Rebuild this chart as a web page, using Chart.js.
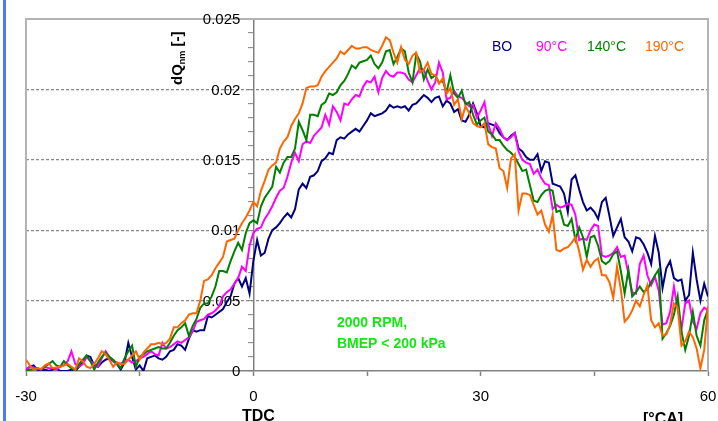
<!DOCTYPE html>
<html>
<head>
<meta charset="utf-8">
<title>dQnm vs crank angle</title>
<script src="https://cdn.jsdelivr.net/npm/chart.js@4.4.1/dist/chart.umd.min.js"></script>
<style>
  html, body { margin: 0; padding: 0; background: #fff; }
  canvas { display: block; }
</style>
</head>
<body>
<canvas id="hrrChart" width="718" height="421"></canvas>
<script>
// Normalised heat release rate dQnm against crank angle (2000 RPM, BMEP < 200 kPa).
// Series values are in units of 1e-3, sampled every 0.5 °CA from -30 to 60.
const angleStart = -30;
const angleStep = 0.5;

const seriesNames = ['BO', '90°C', '140°C', '190°C'];
const seriesColors = ['#000080', '#ff00ff', '#008000', '#ff6600'];

const boValues = [
  0.1, 0.3, 0.4, 0.1, 0.0, 0.1, 0.0, 0.1, 0.2, 0.0,
  0.0, 0.0, 0.1, 0.0, 0.3, 0.6, 1.1, 1.0, 0.4, 0.3,
  0.6, 0.8, 0.9, 0.7, 0.5, 0.1, 0.6, 2.0, 1.0, 0.1,
  0.4, 0.0, 0.9, 1.0, 1.1, 0.9, 0.8, 1.0, 1.4, 1.5,
  1.9, 1.8, 1.5, 2.3, 2.9, 2.8, 2.9, 2.9, 3.9, 3.8,
  4.0, 4.2, 4.4, 4.9, 5.3, 6.2, 6.6, 6.0, 6.6, 5.5,
  7.8, 9.3, 8.2, 8.4, 9.4, 10.0, 10.2, 10.5, 10.9, 11.2,
  10.9, 11.5, 12.9, 13.3, 13.0, 13.8, 13.9, 14.2, 14.9, 15.1,
  15.5, 15.4, 16.4, 16.6, 16.5, 16.8, 17.0, 17.2, 17.0, 17.4,
  17.8, 18.3, 18.1, 18.2, 18.3, 18.5, 18.9, 18.7, 18.8, 18.7,
  18.8, 18.5, 18.9, 19.0, 19.3, 19.6, 19.4, 19.1, 19.4, 19.5,
  18.8, 19.2, 19.0, 18.4, 18.6, 17.8, 17.7, 18.2, 19.0, 18.3,
  17.4, 17.3, 17.6, 17.5, 17.4, 16.9, 16.6, 16.4, 16.7, 16.9,
  15.8, 15.6, 15.2, 15.0, 15.0, 15.4, 14.2, 14.9, 14.8, 13.3,
  13.2, 13.1, 12.6, 11.3, 13.6, 13.9, 12.9, 12.0, 11.4, 11.6,
  11.3, 10.8, 12.0, 12.3, 11.0, 9.6, 10.2, 10.8, 9.5, 9.2,
  8.5, 9.5, 9.4, 9.0, 8.4, 7.6, 9.6, 8.4, 5.9, 7.3,
  7.8, 6.6, 6.4, 6.5, 5.0, 5.4, 8.4, 6.5, 5.0, 6.2,
  5.3
];

const t90Values = [
  0.1, 0.3, 0.25, 0.15, 0.1, 0.3, 0.2, 0.2, 0.1, 0.3,
  0.4, 0.7, 1.4, 0.5, 0.3, 0.5, 1.0, 0.7, 0.5, 0.3,
  0.9, 1.4, 1.0, 0.7, 0.6, 0.5, 0.7, 0.8, 0.6, 0.7,
  0.9, 1.0, 1.2, 1.4, 1.2, 1.1, 2.0, 1.6, 1.7, 1.9,
  2.1, 2.0, 2.2, 2.4, 2.8, 3.5, 3.6, 3.7, 4.0, 4.1,
  4.3, 4.6, 5.3, 5.6, 5.8, 6.2, 6.6, 7.4, 7.1, 8.9,
  9.8, 10.1, 10.2, 10.8, 11.2, 11.7, 12.3, 12.8, 13.0, 13.8,
  14.8, 15.5, 14.9, 16.1, 16.3, 16.2, 16.7, 17.0, 17.3, 18.2,
  17.5, 18.8, 18.4, 17.8, 19.0, 18.9, 19.3, 19.6, 19.5, 20.2,
  20.6, 20.5, 20.9, 19.8, 20.8, 21.3, 21.0, 20.9, 21.2, 21.2,
  21.1, 20.7, 20.5, 21.0, 21.5, 21.4, 20.6, 20.0, 20.5, 21.9,
  21.2, 19.3, 19.4, 19.9, 19.5, 19.4, 19.1, 18.8, 18.9, 18.0,
  18.5, 19.1, 17.5, 16.7, 17.6, 17.2, 16.6, 16.4, 16.6, 16.9,
  15.6, 15.0, 14.8, 14.7, 14.0, 14.3, 13.7, 13.3, 13.2, 11.5,
  11.8, 11.6, 11.7, 11.9, 11.8, 11.1, 9.3, 9.4, 9.3, 10.0,
  10.4, 10.3, 8.2, 8.1, 8.2, 8.4, 8.8, 8.1, 8.2, 6.9,
  5.6, 5.5, 7.6, 8.2, 6.8, 6.1, 6.7, 5.7, 3.3, 3.4,
  4.2, 6.0, 4.4, 3.0, 4.8, 5.0, 3.5, 3.0, 4.1, 4.5,
  4.3
];

const t140Values = [
  0.0, 0.1, 0.1, 0.2, 0.1, 0.3, 0.5, 0.7, 0.4, 0.3,
  0.7, 0.4, 0.2, 0.0, 0.5, 0.8, 1.1, 0.7, 0.1, 0.6,
  1.0, 1.3, 1.0, 0.8, 0.5, 0.2, 0.9, 1.4, 1.8, 0.3,
  1.0, 1.2, 1.4, 1.5, 1.6, 1.7, 1.6, 1.6, 2.0, 2.5,
  2.9, 3.1, 3.4, 2.5, 3.2, 3.7, 4.5, 4.8, 4.8, 5.3,
  6.0, 7.1, 7.1, 7.0, 7.8, 8.5, 9.1, 8.6, 9.8, 10.5,
  10.7, 10.5, 11.7, 12.3, 12.7, 13.1, 14.5, 14.1, 14.8, 15.2,
  15.2, 15.8, 17.7, 17.1, 16.4, 18.2, 18.2, 18.1, 18.9, 19.1,
  19.7, 19.6, 19.8, 20.3, 20.6, 21.1, 21.7, 21.5, 21.9, 22.0,
  22.1, 22.4, 21.8, 21.5, 21.9, 22.7, 22.8, 21.8, 22.3, 22.9,
  22.7, 21.2, 20.5, 22.5, 22.0, 20.7, 21.4, 20.8, 21.0, 20.5,
  20.6, 19.8, 21.0, 19.7, 19.4, 19.9, 18.9, 19.1, 18.2, 17.5,
  17.8, 18.0, 17.0, 16.8, 16.4, 16.4, 16.0, 15.7, 15.5, 15.2,
  14.7, 14.2, 14.3, 13.2, 12.1, 12.0, 12.5, 12.8, 12.9, 12.8,
  11.3, 11.4, 10.4, 10.3, 10.8, 9.3, 10.2, 9.5, 8.1, 9.5,
  9.6, 8.9, 7.8, 7.6, 7.8, 8.3, 8.5, 7.1, 5.5, 7.2,
  5.3, 5.6, 6.0, 5.6, 5.8, 6.3, 6.8, 7.2, 2.3, 2.7,
  3.2, 4.0, 5.3, 2.8, 1.5, 2.5, 4.2, 2.5, 1.8, 3.6,
  4.4
];

const t190Values = [
  0.8, 0.4, 0.1, 0.2, 0.15, 0.4, 0.55, 0.2, 0.25, 0.3,
  0.4, 0.5, 0.3, 0.1, 0.9, 0.7, 0.3, 0.2, 0.5, 0.9,
  1.4, 1.2, 0.8, 0.3, 0.6, 0.5, 0.5, 0.8, 1.1, 1.4,
  0.8, 1.3, 1.6, 1.9, 1.9, 2.0, 1.9, 2.0, 2.3, 3.1,
  3.1, 3.4, 3.6, 4.0, 4.1, 4.1, 5.0, 6.4, 6.5, 6.8,
  7.3, 7.7, 8.1, 9.2, 9.3, 9.4, 10.0, 10.5, 10.9, 11.4,
  12.0, 11.7, 12.8, 13.5, 14.3, 14.6, 14.8, 15.8, 16.3, 16.6,
  17.4, 17.9, 18.3, 19.0, 20.1, 20.2, 20.2, 20.3, 20.9, 21.3,
  21.6, 21.9, 22.2, 22.7, 22.5, 22.8, 23.1, 22.9, 22.9, 23.0,
  23.0, 22.8, 22.7, 22.6, 23.1, 23.7, 23.5, 22.6, 21.9, 23.0,
  22.1, 21.8, 22.4, 22.6, 21.2, 21.4, 21.9, 21.1, 21.0, 20.4,
  20.8, 19.7, 20.1, 18.9, 19.3, 17.9, 18.8, 18.3, 17.6, 17.4,
  17.3, 17.6, 16.1, 15.9, 15.8, 14.4, 14.2, 13.0, 15.1, 15.4,
  11.4, 12.6, 12.6, 12.5, 11.8, 11.1, 11.4, 10.4, 9.9, 11.1,
  8.6, 8.5, 8.7, 8.8, 9.1, 9.5, 8.5, 7.2, 7.9, 7.4,
  7.8, 8.0, 6.8, 6.8, 6.3, 5.2, 7.4, 5.8, 3.5, 3.8,
  4.3, 5.0, 4.6, 5.4, 6.1, 3.6, 3.1, 3.4, 2.5, 2.6,
  3.3, 4.8, 4.5, 1.8, 2.1, 2.8, 2.4, 1.6, 0.2, 1.5,
  4.6
];

const allSeries = [boValues, t90Values, t140Values, t190Values];

// axis ticks
const xTickLabels = [-30, 0, 30, 60];
const yTickValues = [0, 0.005, 0.01, 0.015, 0.02, 0.025];
const yTickLabels = ['0', '0.005', '0.01', '0.015', '0.02', '0.025'];

const FONT = "'Liberation Sans', Arial, sans-serif";

function toPoints(values) {
  return values.map((v, i) => ({ x: angleStart + i * angleStep, y: v / 1000 }));
}

function isMajorY(v) {
  return Math.round(v * 1000) % 5 === 0;
}

// Frame, tick labels, legend text and notes drawn on top of Chart.js
const decorPlugin = {
  id: 'decor',
  beforeDraw(chart) {
    const ctx = chart.ctx;
    ctx.save();
    ctx.fillStyle = '#ffffff';
    ctx.fillRect(0, 0, chart.width, chart.height);
    ctx.fillStyle = '#4a7cf2';
    ctx.fillRect(3, 0, 3, chart.height);
    ctx.restore();
  },
  beforeDatasetsDraw(chart) {
    const { ctx, chartArea: a, scales } = chart;
    ctx.save();
    // plot frame (left, top, right)
    ctx.strokeStyle = '#b4b4b4';
    ctx.lineWidth = 2;
    ctx.beginPath();
    ctx.moveTo(a.left, a.bottom);
    ctx.lineTo(a.left, a.top);
    ctx.lineTo(a.right, a.top);
    ctx.lineTo(a.right, a.bottom);
    ctx.stroke();

    // y tick labels sit left of the axis drawn at TDC
    const axisX = scales.x.getPixelForValue(0);
    ctx.fillStyle = '#000';
    ctx.font = '15px ' + FONT;
    ctx.textAlign = 'right';
    ctx.textBaseline = 'middle';
    yTickValues.forEach((v, i) => {
      ctx.fillText(yTickLabels[i], axisX - 13, scales.y.getPixelForValue(v) + 1);
    });
    ctx.restore();
  },
  afterDraw(chart) {
    const { ctx, scales } = chart;
    const axisX = scales.x.getPixelForValue(0);
    ctx.save();

    // y axis title, rotated: dQnm [-]
    ctx.translate(182, 85);
    ctx.rotate(-Math.PI / 2);
    ctx.fillStyle = '#000';
    ctx.textAlign = 'left';
    ctx.textBaseline = 'alphabetic';
    ctx.font = 'bold 15px ' + FONT;
    ctx.fillText('dQ', 0, 0);
    let w = ctx.measureText('dQ').width;
    ctx.font = 'bold 9px ' + FONT;
    ctx.fillText('nm', w, 3);
    w += ctx.measureText('nm').width;
    ctx.font = 'bold 15px ' + FONT;
    ctx.fillText(' [-]', w, 0);
    ctx.setTransform(1, 0, 0, 1, 0, 0);

    // x axis notes
    ctx.fillStyle = '#000';
    ctx.font = 'bold 16px ' + FONT;
    ctx.textAlign = 'center';
    ctx.fillText('TDC', axisX + 5, 421);
    ctx.textAlign = 'left';
    ctx.fillText('[°CA]', 643, 424);

    // legend as coloured text
    const legendX = [492, 536, 587, 645];
    ctx.font = '14px ' + FONT;
    ctx.textBaseline = 'middle';
    seriesNames.forEach((name, i) => {
      ctx.fillStyle = seriesColors[i];
      ctx.fillText(name, legendX[i], 47);
    });

    // operating point note
    ctx.fillStyle = '#14e614';
    ctx.font = 'bold 14px ' + FONT;
    ctx.fillText('2000 RPM,', 337, 323);
    ctx.fillText('BMEP < 200 kPa', 337, 344);
    ctx.restore();
  }
};

const datasets = allSeries.map((values, i) => ({
  label: seriesNames[i],
  data: toPoints(values),
  borderColor: seriesColors[i],
  borderWidth: 2,
  pointRadius: 0,
  tension: 0,
  fill: false,
  order: allSeries.length - i
}));

new Chart(document.getElementById('hrrChart'), {
  type: 'line',
  data: { datasets },
  options: {
    responsive: false,
    animation: false,
    devicePixelRatio: 1,
    layout: { padding: { left: 26, right: 10, top: 19, bottom: 0 } },
    plugins: {
      legend: { display: false },
      tooltip: { enabled: false }
    },
    scales: {
      x: {
        type: 'linear',
        position: 'bottom',
        min: -30,
        max: 60,
        afterFit(scale) {
          // fixed band under the plot; end labels may run into the margins
          scale.height = 50;
          scale.paddingLeft = 0;
          scale.paddingRight = 0;
        },
        ticks: {
          stepSize: 15,
          autoSkip: false,
          maxRotation: 0,
          padding: 12,
          color: '#000',
          font: { family: FONT, size: 15 },
          callback: v => (xTickLabels.includes(v) ? String(v) : '')
        },
        grid: {
          drawOnChartArea: false,
          drawTicks: true,
          tickLength: 5,
          tickColor: '#808080',
          tickWidth: 1.5
        },
        border: { color: '#808080', width: 1.5 }
      },
      y: {
        type: 'linear',
        position: { x: 0 },
        min: 0,
        max: 0.025,
        ticks: { display: false, stepSize: 0.001, autoSkip: false },
        grid: {
          drawTicks: true,
          tickLength: 5,
          tickWidth: 1,
          tickColor: '#808080',
          lineWidth: 1.3,
          color: c => {
            const v = c.tick ? c.tick.value : 0;
            return isMajorY(v) && v > 0 && v < 0.025 ? '#888888' : 'rgba(0,0,0,0)';
          }
        },
        border: { color: '#808080', width: 1.5, dash: [3, 2] }
      }
    }
  },
  plugins: [decorPlugin]
});
</script>
</body>
</html>
